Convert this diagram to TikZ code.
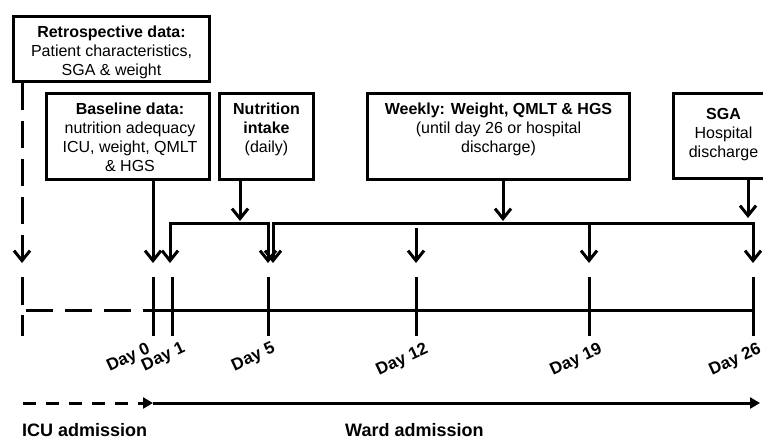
\documentclass[tikz,border=0pt]{standalone}
\usepackage{fontspec}
\setmainfont{Liberation Sans}
\usetikzlibrary{arrows.meta,calc}
\tikzset{
  blk/.style={draw,rectangle,line width=3pt,inner sep=0pt,anchor=north west},
  txt/.style={font=\fontsize{16}{19}\selectfont,align=center,inner sep=0pt,anchor=north},
  arr/.style={-{Straight Barb[length=10pt,width=16pt]},line width=3pt},
  tick/.style={line width=3pt},
  flow/.style={line width=3pt,-{Triangle[length=10pt,width=11pt]}},
  daylbl/.style={font=\fontsize{17}{19}\selectfont\bfseries,rotate=25,anchor=north east,inner sep=0pt},
  phase/.style={font=\fontsize{18}{20}\selectfont\bfseries,inner sep=0pt,anchor=base west}
}
\begin{document}
\begin{tikzpicture}[x=1pt,y=-1pt]
  \useasboundingbox (0,0) rectangle (763,439);

  % boxes
  \node[blk,minimum width=196pt,minimum height=65pt] (retro) at (12,15) {};
  \node[blk,minimum width=163pt,minimum height=86pt] (base) at (45,92) {};
  \node[blk,minimum width=94pt,minimum height=86pt] (nutr) at (218,92) {};
  \node[blk,minimum width=262pt,minimum height=86pt] (week) at (366,92) {};
  \node[blk,minimum width=100pt,minimum height=85pt] (sga) at (672,92) {};

  \node[txt] (retrotxt) at ($(retro.north)+(0,11)$) {\textbf{Retrospective data:}\\Patient characteristics,\\SGA \& weight};
  \node[txt] (basetxt) at ($(base.north)+(2,11)$) {\textbf{Baseline data:}\\nutrition adequacy\\ICU, weight, QMLT\\\& HGS};
  \node[txt] (nutrtxt) at ($(nutr.north)+(0,11)$) {\textbf{Nutrition}\\\textbf{intake}\\(daily)};
  \node[txt] (weektxt) at ($(week.north)+(0,11)$) {\textbf{Weekly: Weight, QMLT \& HGS}\\(until day 26 or hospital\\discharge)};
  \node[txt] (sgatxt) at ($(sga.north)+(0,16)$) {\textbf{SGA}\\Hospital\\discharge};

  % timeline
  \coordinate (icu) at (22,310);
  \coordinate (d0) at (153,310);
  \coordinate (d1) at (172,310);
  \coordinate (d5) at (268,310);
  \coordinate (d12) at (416,310);
  \coordinate (d19) at (589,310);
  \coordinate (d26) at (753,310);
  \coordinate (tiprow) at (0,263);
  \coordinate (n1) at (240,223);
  \coordinate (w2) at (503,223);
  \coordinate (s2) at (748,218);

  \draw[tick,dash pattern=on 27pt off 12pt] ($(icu)+(4,0)$) -- (d0);
  \draw[tick] (d0) -- (d26);
  \draw[tick,dash pattern=on 28pt off 10pt] (icu) ++(0,-33) -- ++(0,59);
  \foreach \d in {d0,d1,d5,d12,d19,d26}
    \draw[tick] (\d) ++(0,-33) -- ++(0,59);
  \foreach \d/\t/\dx in {d0/0/-7,d1/1/9,d5/5/3,d12/12/8,d19/19/9,d26/26/4}
    \node[daylbl] (l\t) at ($(\d)+(\dx,31)$) {Day \t};

  % arrows
  \draw[arr,dash pattern=on 27pt off 11pt] (retro.south -| icu) -- (tiprow -| icu);
  \draw[arr] (base.south -| d0) -- (tiprow -| d0);
  \draw[arr] (nutr.south -| n1) -- ($(n1)+(0,-2)$);
  \draw[arr] (n1) -| (tiprow -| 170,0);
  \draw[arr] (n1) -| (tiprow -| d5);
  \draw[arr] (week.south -| w2) -- ($(w2)+(0,-2)$);
  \draw[arr] (w2) -| (tiprow -| 273,0);
  \draw[arr] (w2) -| (tiprow -| d26);
  \draw[arr] ($(w2 -| d12)+(0,5)$) -- (tiprow -| d12);
  \draw[arr] (w2 -| d19) -- (tiprow -| d19);
  \draw[arr] (sga.south -| s2) -- (s2);

  % admission
  \coordinate (a0) at (23,403);
  \coordinate (a1) at (153,403);
  \coordinate (a2) at (760,403);
  \draw[flow,dash pattern=on 13pt off 10pt] (a0) -- (a1);
  \draw[flow] (a1) -- (a2);
  \node[phase] (icutxt) at (22,436) {ICU admission};
  \node[phase] (wardtxt) at (345,436) {Ward admission};
\end{tikzpicture}
\end{document}
